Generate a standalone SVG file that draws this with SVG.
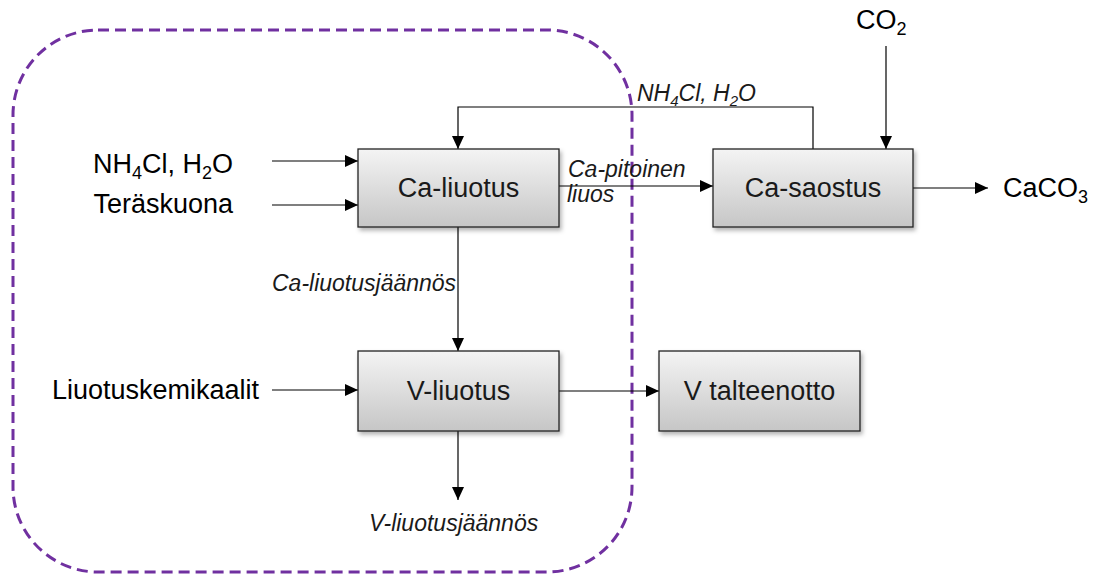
<svg xmlns="http://www.w3.org/2000/svg" width="1095" height="575" viewBox="0 0 1095 575">
<style>
.box{fill:url(#g);stroke:#222;stroke-width:1.3;filter:url(#sh)}
.bl{font-family:"Liberation Sans",Arial,sans-serif;font-size:27px;fill:#1a1a1a;text-anchor:middle}
.lb{font-family:"Liberation Sans",Arial,sans-serif;font-size:27px;fill:#000}
.it{font-family:"Liberation Sans",Arial,sans-serif;font-size:23px;font-style:italic;fill:#1a1a1a}
.ca{fill:none;stroke:#000;stroke-width:1.2;marker-end:url(#ah)}
</style>
<defs>
<linearGradient id="g" x1="0" y1="0" x2="0" y2="1">
<stop offset="0" stop-color="#f4f4f4"/>
<stop offset="1" stop-color="#c6c6c6"/>
</linearGradient>
<filter id="sh" x="-10%" y="-10%" width="130%" height="140%">
<feDropShadow dx="2" dy="3" stdDeviation="2" flood-color="#000" flood-opacity="0.3"/>
</filter>
<marker id="ah" markerWidth="14" markerHeight="12" refX="13" refY="6" orient="auto" markerUnits="userSpaceOnUse">
<path d="M0,0 L13,6 L0,12 Z" fill="#000"/>
</marker>
</defs>
<rect x="13" y="30" width="619" height="542" rx="85" ry="85" fill="none" stroke="#7030A0" stroke-width="3" stroke-dasharray="11,6"/>
<g id="connectors">
<line class="ca" x1="272" y1="161" x2="358" y2="161"/>
<line class="ca" x1="272" y1="205" x2="358" y2="205"/>
<line class="ca" x1="559" y1="186" x2="713" y2="186"/>
<polyline class="ca" points="813,149 813,107 458,107 458,149"/>
<line class="ca" x1="886" y1="46" x2="886" y2="149"/>
<line class="ca" x1="913" y1="188" x2="988" y2="188"/>
<line class="ca" x1="458" y1="227" x2="458" y2="351"/>
<line class="ca" x1="272" y1="390" x2="358" y2="390"/>
<line class="ca" x1="559" y1="391" x2="659" y2="391"/>
<line class="ca" x1="458" y1="431" x2="458" y2="500"/>
</g>
<g id="ca-liuotus">
<rect class="box" x="358" y="149" width="201" height="78"/>
<text class="bl" x="458.5" y="197">Ca-liuotus</text>
</g>
<g id="ca-saostus">
<rect class="box" x="713" y="149" width="200" height="78"/>
<text class="bl" x="813" y="197">Ca-saostus</text>
</g>
<g id="v-liuotus">
<rect class="box" x="358" y="351" width="201" height="80"/>
<text class="bl" x="458.5" y="400">V-liuotus</text>
</g>
<g id="v-talteenotto">
<rect class="box" x="659" y="351" width="201" height="80"/>
<text class="bl" x="759.5" y="400">V talteenotto</text>
</g>
<g id="labels">
<text class="lb" x="233" y="173" text-anchor="end">NH<tspan font-size="18" dy="6">4</tspan><tspan dy="-6">Cl, H</tspan><tspan font-size="18" dy="6">2</tspan><tspan dy="-6">O</tspan></text>
<text class="lb" x="233" y="213" text-anchor="end">Teräskuona</text>
<text class="lb" x="259" y="399" text-anchor="end">Liuotuskemikaalit</text>
<text class="lb" x="856" y="29">CO<tspan font-size="18" dy="6">2</tspan></text>
<text class="lb" x="1003" y="197">CaCO<tspan font-size="18" dy="6">3</tspan></text>
<text class="it" x="637" y="101">NH<tspan font-size="15" dy="5">4</tspan><tspan dy="-5">Cl, H</tspan><tspan font-size="15" dy="5">2</tspan><tspan dy="-5">O</tspan></text>
<text class="it" x="568" y="177">Ca-pitoinen</text>
<text class="it" x="567" y="202">liuos</text>
<text class="it" x="272" y="291">Ca-liuotusjäännös</text>
<text class="it" x="369" y="531">V-liuotusjäännös</text>
</g>
</svg>
